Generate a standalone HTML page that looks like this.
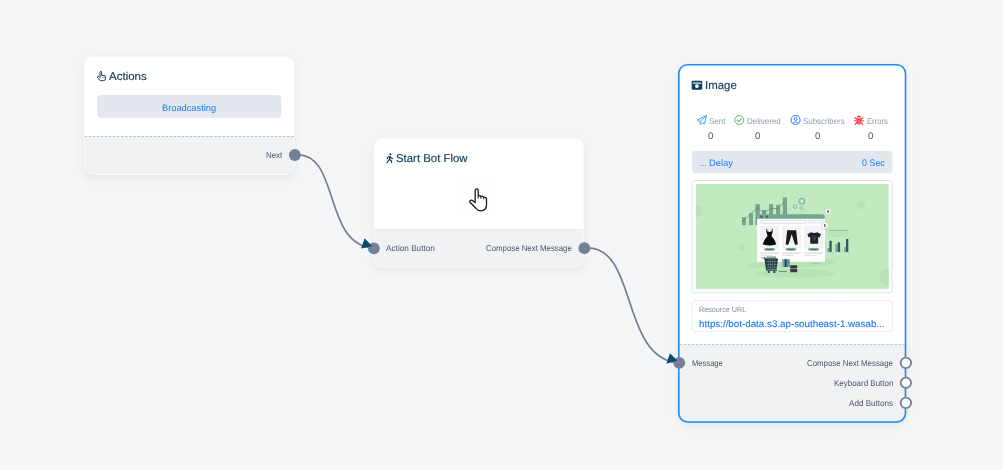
<!DOCTYPE html>
<html lang="en">
<head>
<meta charset="utf-8">
<title>Bot Flow</title>
<style>
*{box-sizing:border-box;margin:0;padding:0}
html,body{width:1003px;height:470px;overflow:hidden;background:#f5f6f8;font-family:"Liberation Sans",sans-serif;}
#stage{position:relative;width:1003px;height:470px;overflow:hidden;background:#f5f6f8}
.t{position:absolute;white-space:nowrap;line-height:1;transform-origin:0 0;text-rendering:geometricPrecision}
svg{position:absolute;overflow:visible}
#shapes{left:0;top:0}
</style>
</head>
<body>
<div id="stage">
<svg id="shapes" width="1003" height="470" viewBox="0 0 1003 470">
  <defs>
    <filter id="sh" x="-20%" y="-20%" width="140%" height="150%">
      <feDropShadow dx="0" dy="3" stdDeviation="4.5" flood-color="#000" flood-opacity=".07"/>
    </filter>
    <clipPath id="c1"><rect x="84.1" y="56.7" width="210.2" height="117.7" rx="8"/></clipPath>
    <clipPath id="c2"><rect x="373.9" y="138.7" width="209.7" height="128.6" rx="8"/></clipPath>
    <clipPath id="c3"><rect x="678.8" y="64.7" width="226.7" height="357.3" rx="8.8"/></clipPath>
    <clipPath id="ci"><rect x="695.9" y="184" width="192.7" height="104.9"/></clipPath>
  </defs>

  <!-- Actions card -->
  <rect x="84.1" y="56.7" width="210.2" height="117.7" rx="8" fill="#fff" filter="url(#sh)"/>
  <g clip-path="url(#c1)">
    <rect x="84.5" y="136.5" width="209.4" height="37.5" fill="#f1f2f4"/>
  </g>
  <line x1="84.6" y1="136.5" x2="294.3" y2="136.5" stroke="#bcc3c7" stroke-width="1" stroke-dasharray="2.6 1.45"/>
  <rect x="97" y="94.9" width="184.4" height="22.9" rx="4" fill="#e3e8ef"/>

  <!-- Start Bot Flow card -->
  <rect x="373.9" y="138.7" width="209.7" height="128.6" rx="8" fill="#fff" filter="url(#sh)"/>
  <g clip-path="url(#c2)">
    <rect x="374.3" y="229.5" width="208.9" height="37.4" fill="#f1f2f4"/>
  </g>
  <line x1="374.4" y1="229.5" x2="583.6" y2="229.5" stroke="#e2e5e9" stroke-width="1" stroke-dasharray="2.6 1.45"/>
  <rect x="458.5" y="177" width="40.6" height="41" fill="#fffdfe"/>

  <!-- Image card -->
  <rect x="678.8" y="64.7" width="226.7" height="357.3" rx="8.8" fill="#fff" filter="url(#sh)"/>
  <g clip-path="url(#c3)">
    <rect x="678.8" y="344.4" width="226.7" height="78" fill="#f1f2f4"/>
  </g>
  <line x1="679.6" y1="344.4" x2="905" y2="344.4" stroke="#bcc3c7" stroke-width="1" stroke-dasharray="2.6 1.45"/>
  <rect x="678.8" y="64.7" width="226.7" height="357.3" rx="8.8" fill="none" stroke="#1a8bf7" stroke-width="1.6"/>
  <rect x="691.9" y="151" width="200.6" height="22.3" rx="4" fill="#e3e8ef"/>
  <rect x="692" y="180.5" width="200.1" height="112.4" rx="2.5" fill="#fff" stroke="#dfe3e8" stroke-width="1"/>
  <rect x="695.9" y="184" width="192.7" height="104.9" fill="#c1ebbf"/>
  <g clip-path="url(#ci)">
<g>
  <!-- background blobs -->
  <circle cx="695.5" cy="211.4" r="6.3" fill="#b6e2b6"/>
  <circle cx="742" cy="247" r="3.3" fill="#b6e2b6"/>
  <circle cx="860.9" cy="204.9" r="4.3" fill="#b6e2b6"/>
  <circle cx="888" cy="277.2" r="8.5" fill="#b6e2b6"/>
  <!-- ground shadows -->
  <ellipse cx="791" cy="263.3" rx="44" ry="5" fill="#b7e3b6" transform="rotate(-2.3 791 263.3)"/>
  <ellipse cx="795.5" cy="273.3" rx="39.500" ry="4.300" fill="#b7e3b6"/>
  <!-- left bar chart -->
  <g fill="#78a590">
    <rect x="742" y="217.1" width="3.9" height="8"/>
    <rect x="749" y="213.2" width="4" height="11.8"/>
    <rect x="755.4" y="204.2" width="4.4" height="20.8"/>
    <rect x="762.1" y="210" width="4.1" height="6"/>
    <rect x="769.1" y="204" width="4" height="12"/>
    <rect x="776.1" y="204.9" width="4" height="11"/>
    <rect x="782.8" y="197.5" width="4.2" height="18"/>
  </g>
  <polyline points="742.5,221.5 757.5,207.8 763.8,213 770.5,208.7 778,208.5 785,200.8" fill="none" stroke="#4f8072" stroke-width="0.600"/>
  <!-- coins -->
  <circle cx="801.8" cy="201.3" r="3.500" fill="#8bbca2"/><circle cx="801.8" cy="201.3" r="2.300" fill="#a9d3b8"/><rect x="801.1" y="199.700" width="1.400" height="3.200" rx=".6" fill="#f2faf3"/>
  <circle cx="795.3" cy="206.6" r="1.700" fill="#d8eedd" stroke="#78a590" stroke-width=".9"/>
  <circle cx="801.4" cy="208" r="1.400" fill="#e2f3e5" stroke="#78a590" stroke-width=".8"/><rect x="804.300" y="210.200" width="1.400" height=".5" fill="#8dbb9c"/>
  <circle cx="794.3" cy="201.6" r=".5" fill="#a7d4b0"/>
  <circle cx="796.3" cy="197" r=".5" fill="#a7d4b0"/>
  <circle cx="814.5" cy="205.7" r="2" fill="#f6fcf6" stroke="#a4c7ad" stroke-width=".6"/>
  <rect x="814.2" y="204.6" width=".7" height="2.2" fill="#888"/>
  <!-- right chart -->
  <rect x="829.1" y="230.1" width="19.2" height=".8" fill="#82b795"/>
  <rect x="829.1" y="232.8" width="19.2" height=".7" fill="#a3d3aa"/>
  <rect x="829.1" y="235.5" width="19.2" height=".7" fill="#a3d3aa"/>
  
  <g fill="#7cab96">
    <rect x="827.3" y="248" width="2.4" height="4"/>
    <rect x="835.3" y="244.2" width="2.5" height="7.8"/>
    <rect x="843.9" y="246.8" width="2.4" height="5.2"/>
  </g>
  <g fill="#2f5a63">
    <rect x="829.4" y="240.8" width="2.3" height="11.2"/>
    <rect x="837.7" y="242.3" width="2.4" height="9.7"/>
    <rect x="846" y="238.9" width="2.3" height="13.1"/>
  </g>
  <rect x="825" y="251.9" width="24" height=".4" fill="#9fcfa8"/>
  <!-- window -->
  <path d="M757.1 219 V216.4 a2.2 2.2 0 0 1 2.2 -2.2 H822 a2.8 2.8 0 0 1 2.8 2.8 V219 Z" fill="#76a593"/>
  <rect x="757.1" y="218.8" width="67.8" height="43" fill="#ffffff"/>
  <circle cx="761.5" cy="216.6" r="1.2" fill="#48686f"/>
  <circle cx="766.9" cy="216.6" r="1.2" fill="#48686f"/>
  <rect x="760.6" y="220.3" width="45.8" height="3" rx="1.5" fill="#fff" stroke="#c2c8c6" stroke-width=".6"/>
  <rect x="808.2" y="220.3" width="15.6" height="2.5" rx=".6" fill="#fff" stroke="#c2c8c6" stroke-width=".6"/>
  <!-- tiles -->
  <g fill="#f3f3f4">
    <rect x="760.2" y="226" width="18.8" height="22.6"/>
    <rect x="782.2" y="226" width="18.8" height="22.6"/>
    <rect x="804" y="226" width="19.6" height="22.6"/>
  </g>
  <!-- dress -->
  <path d="M766.4 228.8 h.8 v2.4 q1.3 .2 2.3 1.1 q1 -.9 2.3 -1.100 v-2.4 h.8 v2.6 q0 1.300 -.5 2 l-.6 2.5 q3.600 3.800 4.800 8.300 q-6.800 2.700 -13.600 0 q1.200 -4.500 4.800 -8.300 l-.6 -2.5 q-.5 -.7 -.5 -2 Z" fill="#0b0b0d"/>
  <!-- pants -->
  <path d="M787.2 230.300 h9 l1.500 14.200 l-2.700 .3 l-3.300 -10.600 l-3.300 10.600 l-2.700 -.3 Z" fill="#1a1a1e"/>
  <!-- tshirt -->
  <path d="M811 232.200 q3.200 1.500 6.400 0 l3.600 2 l-1.300 3.200 l-1.500 -.6 v6.200 q0 .8 -.8 .8 h-6.400 q-.8 0 -.8 -.8 v-6.200 l-1.500 .6 l-1.300 -3.200 Z" fill="#25222a"/>
  <rect x="812.2" y="236.800" width="3.600" height=".6" fill="#4c6c78"/>
  <rect x="813" y="238.600" width="3" height=".6" fill="#4c6c78"/>
  <!-- buttons -->
  <g fill="#7fae9b">
    <rect x="764.3" y="247.9" width="10.6" height="2.8" rx="1.4"/>
    <rect x="785.6" y="247.9" width="10.6" height="2.8" rx="1.4"/>
    <rect x="808.3" y="247.9" width="10.8" height="2.8" rx="1.4"/>
  </g>
  <g fill="#2f5258">
    <rect x="766.4" y="249" width="6.4" height=".7"/>
    <rect x="787.7" y="249" width="6.4" height=".7"/>
    <rect x="810.500" y="249" width="6.4" height=".7"/>
  </g>
  <!-- text lines -->
  <g fill="#cfd0d1">
    <rect x="760.5" y="252.600" width="18.400" height="1"/>
    <rect x="782.3" y="252.600" width="18.600" height="1"/>
    <rect x="804.3" y="252.600" width="18.800" height="1"/>
    <rect x="760.5" y="254.900" width="12" height=".7"/>
    <rect x="782.3" y="254.900" width="11.500" height=".7"/>
    <rect x="804.3" y="254.900" width="12" height=".7"/>
  </g>
  <!-- bubbles -->
  <circle cx="828.1" cy="211.4" r="3.200" fill="#f8fcf8" stroke="#b3c6b9" stroke-width=".6"/>
  <rect x="827.4" y="209.900" width="1.400" height="3" rx=".4" fill="#555"/>
  <circle cx="824.8" cy="225.500" r="3.400" fill="#fcfefc" stroke="#b9c7bd" stroke-width=".6"/>
  <rect x="824.1" y="224" width="1.500" height="3" rx=".4" fill="#666"/>
  <!-- under-window line -->
  <rect x="810.900" y="263" width="8.200" height=".6" fill="#8dbb9c"/>
  <!-- cart -->
  <g>
    <path d="M761.200 257.400 l3.600 1.200" stroke="#6d9c8c" stroke-width="1" fill="none"/>
    <rect x="766.500" y="256.300" width="9.500" height="2.800" fill="#8fa8a6"/>
    <path d="M764.600 258.600 h13.400 l-1.500 11 h-9.900 Z" fill="#1d3038"/>
    <g stroke="#8fb0ac" stroke-width=".45">
      <path d="M766 261.600 h11.500 M766.300 264.400 h11 M766.500 267.200 h10.500 M768.200 259 v10.500 M770.400 259 v10.500 M772.600 259 v10.500 M774.800 259 v10.500"/>
    </g>
    <path d="M764.700 257 l1.900 13.400 h10.500" stroke="#1d3038" stroke-width=".8" fill="none"/>
    <circle cx="768.700" cy="272" r="1.100" fill="#1d3038"/>
    <circle cx="774.300" cy="272" r="1.100" fill="#1d3038"/>
  </g>
  <rect x="778.700" y="271" width="8.200" height=".6" fill="#355d5f"/>
  <!-- box -->
  <rect x="782" y="259.200" width="7.800" height="7.800" rx=".8" fill="#5f8f98"/>
  <rect x="784.900" y="259.200" width="1.500" height="7.800" fill="#1f3b47"/>
  <rect x="782" y="259.200" width="1.600" height="7.800" fill="#8db7ad"/>
  <!-- cards -->
  <rect x="790.200" y="265.200" width="7" height="3.300" rx=".5" fill="#33363b"/>
  <rect x="790.200" y="269" width="7" height="3.300" rx=".5" fill="#3b3d41"/>
</g>

  </g>
  <rect x="692.2" y="300.6" width="200.2" height="30.8" rx="2.5" fill="#fff" stroke="#dae8f9" stroke-width="1" stroke-dasharray="2.8 1.3"/>

  <!-- edges -->
  <path d="M295 155 C 341 150.7, 321.8 245.5, 374 248" fill="none" stroke="#738095" stroke-width="1.7"/>
  <path d="M585 248 C 638.7 244.2, 619.1 358.1, 679 363" fill="none" stroke="#738095" stroke-width="1.7"/>

  <!-- handles -->
  <g fill="#738095">
    <circle cx="294.85" cy="155" r="5.9"/>
    <circle cx="373.9" cy="248.3" r="5.9"/>
    <circle cx="584.4" cy="248.2" r="5.9"/>
    <circle cx="679.2" cy="362.8" r="5.9"/>
  </g>
  <g fill="#fff" stroke="#738095" stroke-width="1.8">
    <circle cx="905.9" cy="362.9" r="5.2"/>
    <circle cx="905.9" cy="382.8" r="5.2"/>
    <circle cx="905.9" cy="402.9" r="5.2"/>
  </g>
  <polygon points="364.6,238.3 361.1,248.6 372.3,246.2" fill="#084b6c"/>
  <polygon points="670,353.2 666.4,363.7 677.2,360.5" fill="#084b6c"/>

<!-- title icons -->
<svg width="9.2" height="10" viewBox="0 0 9.200 10" x="96.900" y="71">
  <path d="M3.1 6.100 V1.200 a.8 .8 0 0 1 1.600 0 V4.500 h2.400 a1.400 1.400 0 0 1 1.400 1.400 V7.800 a1.800 1.800 0 0 1 -1.800 1.800 H4.200 a2.200 2.200 0 0 1 -1.700 -.8 L.8 6.700 a.85 .85 0 0 1 1.300 -1.100 L3 6.500" fill="none" stroke="#153e5c" stroke-width="1" stroke-linejoin="round" stroke-linecap="round"/>
  <path d="M4.900 6.500 h3.400" stroke="#6aa0d8" stroke-width=".8" fill="none"/>
</svg>
<svg width="7" height="10" viewBox="0 0 7 10" x="386" y="153.100">
  <circle cx="4.400" cy="1.100" r="1.050" fill="#153e5c"/>
  <path d="M3.900 3.300 L3.500 6.200 L1 9.500 M3.500 6.200 L5.300 7.600 L5.600 9.600 M3.800 3.400 L1.700 4.300 L1.300 5.600 M4.200 3.500 L5.300 5 L6.600 5.400" fill="none" stroke="#153e5c" stroke-width="1.250" stroke-linecap="round" stroke-linejoin="round"/>
</svg>
<svg width="10.5" height="9" viewBox="0 0 10.500 9" x="691.700" y="80.700">
  <rect x="0" y="0" width="10.500" height="9" rx="1.300" fill="#123f5f"/>
  <rect x="1.200" y="1.900" width="8.300" height="1.100" fill="#fff"/>
  <circle cx="5.200" cy="5.400" r="1.900" fill="#fff"/>
  <rect x="3.300" y="0" width="2.200" height=".8" fill="#6d8aa0"/>
</svg>
<!-- stats icons -->
<svg width="10.4" height="10.2" viewBox="0 0 10.400 10.200" x="696.500" y="114.900">
  <path d="M9.900 .6 L.6 5.300 L3.500 6.800 L3.800 9.600 L5.500 7.800 L8 9 Z M3.500 6.800 L9.900 .6" fill="none" stroke="#35b0f5" stroke-width="1" stroke-linejoin="round"/>
</svg>
<svg width="10.200" height="10.200" viewBox="0 0 10.200 10.200" x="734.200" y="114.900">
  <circle cx="5.100" cy="5.100" r="4.500" fill="none" stroke="#4cc46a" stroke-width="1"/>
  <path d="M3 5.200 L4.500 6.700 L7.300 3.900" fill="none" stroke="#4cc46a" stroke-width="1.100" stroke-linecap="round" stroke-linejoin="round"/>
</svg>
<svg width="10.200" height="10.200" viewBox="0 0 10.200 10.200" x="790.500" y="114.900">
  <circle cx="5.100" cy="5.100" r="4.500" fill="none" stroke="#3a86f7" stroke-width="1.1"/>
  <circle cx="5.100" cy="4.100" r="1.500" fill="none" stroke="#3a86f7" stroke-width="1"/>
  <path d="M2.200 8.300 Q5.100 5.300 8 8.300" fill="none" stroke="#3a86f7" stroke-width="1"/>
</svg>
<svg width="10" height="10.200" viewBox="0 0 10 10.200" x="853.900" y="114.900">
  <g fill="#ff4444" stroke="none">
    <path d="M2.900 2.600 a2.100 2.100 0 0 1 4.200 0 Z"/>
    <path d="M2.500 3.300 h5 v3.600 a2.500 2.800 0 0 1 -5 0 Z"/>
  </g>
  <path d="M2.700 4.300 L.9 2.600 M7.300 4.300 L9.100 2.600 M2.500 5.800 H.3 M7.500 5.800 H9.700 M2.900 7.800 L1.100 9.600 M7.100 7.800 L8.900 9.600" stroke="#ff4444" stroke-width="1.100" stroke-linecap="round" fill="none"/>
  <path d="M5 5 V9.600" stroke="#ffd0c0" stroke-width=".5"/>
</svg>
<!-- pointer hand -->
<svg width="20" height="24" viewBox="468 187 20 24" x="468" y="187">
  <path d="M475.200 202.600 V190.300 a1.500 1.500 0 0 1 3 0 V195.800 q1.400 -.7 2.700 .5 q1.500 -.500 2.800 .9 q2.800 -.300 2.800 2.300 V204.800 q0 6 -5.800 6 q-3 0 -4.600 -2.300 l-6.100 -6.200 q-.7 -1 .3 -1.900 q.9 -.700 2 0 Z" fill="#fff" stroke="#1a1a1a" stroke-width="1.300" stroke-linejoin="round"/>
  <path d="M478.200 195.800 v2.600 M480.900 196.400 v2.400 M483.700 197.300 v2" stroke="#1a1a1a" stroke-width="1" fill="none"/>
</svg>

</svg>

<span class="t" id="t1" style="left:108.8px;top:72px;font-size:11.4px;color:#113a58;-webkit-text-stroke:0.15px #113a58;transform:scaleX(1.0118)">Actions</span>
<span class="t" id="t2" style="left:162.3px;top:104px;font-size:9.5px;color:#1a7ef2;transform:scaleX(0.9756)">Broadcasting</span>
<span class="t" id="t3" style="left:265.8px;top:151px;font-size:8.5px;color:#4b556a;transform:scaleX(0.9265)">Next</span>
<span class="t" id="t4" style="left:396.2px;top:154px;font-size:11.4px;color:#113a58;-webkit-text-stroke:0.15px #113a58;transform:scaleX(0.9996)">Start Bot Flow</span>
<span class="t" id="t5" style="left:386.3px;top:244px;font-size:8.5px;color:#4b556a;transform:scaleX(0.9671)">Action Button</span>
<span class="t" id="t6" style="left:486.0px;top:244px;font-size:8.5px;color:#4b556a;transform:scaleX(0.9218)">Compose Next Message</span>
<span class="t" id="t7" style="left:704.9px;top:81px;font-size:11.4px;color:#113a58;-webkit-text-stroke:0.15px #113a58;transform:scaleX(1.0040)">Image</span>
<span class="t" id="s1" style="left:708.8px;top:117px;font-size:8.4px;color:#909bab;transform:scaleX(0.9574)">Sent</span>
<span class="t" id="s2" style="left:747.2px;top:117px;font-size:8.4px;color:#909bab;transform:scaleX(0.9551)">Delivered</span>
<span class="t" id="s3" style="left:803.4px;top:117px;font-size:8.4px;color:#909bab;transform:scaleX(0.9408)">Subscribers</span>
<span class="t" id="s4" style="left:867.2px;top:117px;font-size:8.4px;color:#909bab;transform:scaleX(0.9118)">Errors</span>
<span class="t" id="v1" style="left:708.0px;top:132px;font-size:9.6px;color:#4b556a;transform:scaleX(1.0105)">0</span>
<span class="t" id="v2" style="left:754.9px;top:132px;font-size:9.6px;color:#4b556a;transform:scaleX(1.0105)">0</span>
<span class="t" id="v3" style="left:814.9px;top:132px;font-size:9.6px;color:#4b556a;transform:scaleX(1.0105)">0</span>
<span class="t" id="v4" style="left:868.1px;top:132px;font-size:9.6px;color:#4b556a;transform:scaleX(1.0105)">0</span>
<span class="t" id="d0" style="left:699.8px;top:159px;font-size:9.5px;color:#1a7ef2;transform:scaleX(0.7826)">...</span>
<span class="t" id="d1" style="left:709.1px;top:159px;font-size:9.5px;color:#1a7ef2;transform:scaleX(0.9837)">Delay</span>
<span class="t" id="d2" style="left:862.1px;top:159px;font-size:9.5px;color:#1a7ef2;transform:scaleX(0.9384)">0 Sec</span>
<span class="t" id="r1" style="left:699.4px;top:306px;font-size:7.7px;color:#7f8998;transform:scaleX(0.9361)">Resource URL</span>
<span class="t" id="r2" style="left:699.4px;top:320px;font-size:9.6px;color:#1877ec;-webkit-text-stroke:0.1px #1877ec;transform:scaleX(1.0200)">https://bot-data.s3.ap-southeast-1.wasab...</span>
<span class="t" id="m1" style="left:691.5px;top:359px;font-size:8.5px;color:#4b556a;transform:scaleX(0.8928)">Message</span>
<span class="t" id="m2" style="left:807.3px;top:359px;font-size:8.5px;color:#4b556a;transform:scaleX(0.9229)">Compose Next Message</span>
<span class="t" id="m3" style="left:833.8px;top:379px;font-size:8.5px;color:#4b556a;transform:scaleX(0.9380)">Keyboard Button</span>
<span class="t" id="m4" style="left:849.1px;top:399px;font-size:8.5px;color:#4b556a;transform:scaleX(0.9522)">Add Buttons</span>

</div>
</body>
</html>
